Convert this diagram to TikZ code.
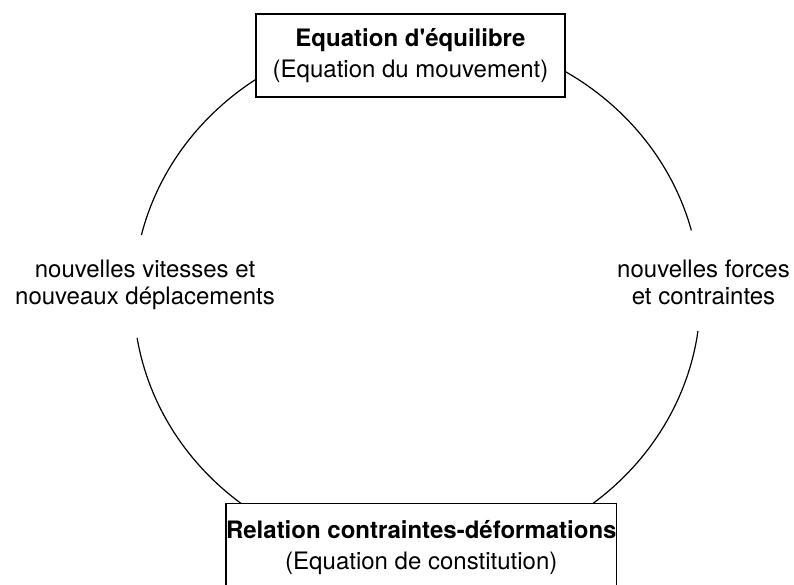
\documentclass[tikz,border=0pt]{standalone}
\usepackage{fontspec}
\setmainfont{TeX Gyre Heros}
\begin{document}
\begin{tikzpicture}[x=1pt,y=-1pt,
  box/.style={draw, fill=white, line width=1.3pt, inner sep=0pt, align=center,
    font=\fontsize{24}{31}\selectfont},
  lbl/.style={align=center, inner sep=0pt, font=\fontsize{24}{27}\selectfont},
  cyc/.style={line width=1.2pt}]
\path[use as bounding box, clip] (0,0) rectangle (794,584);
% cycle (ellipse with gaps at the side labels)
\draw[cyc] plot[domain=14.5:166.5, samples=120] ({417+283.4*cos(\x)}, {296.5-264*sin(\x)});
\draw[cyc] plot[domain=189:352.5, samples=120] ({417+283.4*cos(\x)}, {296.5-264*sin(\x)});
% boxes
\node[box, minimum width=309pt, minimum height=83pt] (top) at (410.5,55.5)
  {\textbf{Equation d\textquotesingle équilibre}\\(Equation du mouvement)};
\node[box, inner ysep=17.5pt, minimum width=321.3pt] (bot) at (421.3,548)
  {\textbf{Relation contraintes-déformations}\\(Equation de constitution)};
% side labels
\node[lbl] (lft) at (145,285.3) {nouvelles vitesses et\\nouveaux déplacements};
\node[lbl] (rgt) at (703.5,282.8) {nouvelles forces\\et contraintes};
\end{tikzpicture}
\end{document}
